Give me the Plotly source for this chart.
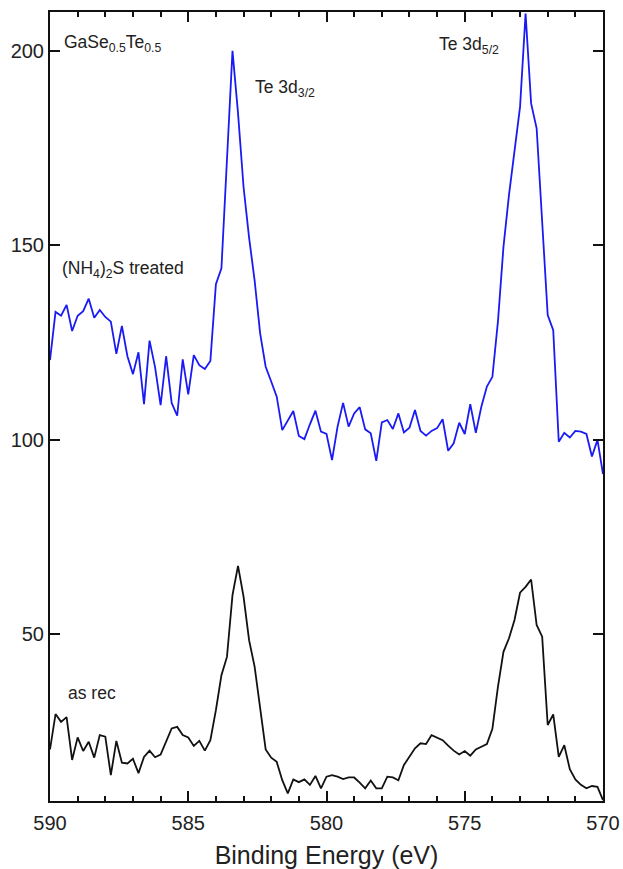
import numpy as np
import plotly.graph_objects as go

# Binding energy grid (eV), 590 -> 570 in 0.2 eV steps
energy = np.round(np.linspace(590, 570, 101), 1)

treated = [120.5, 132.9, 131.9, 134.7, 128.0, 131.9, 133.1, 136.3, 131.4, 133.4,
           131.6, 130.4, 122.1, 129.3, 121.5, 116.9, 122.5, 109.2, 125.5, 118.7,
           108.9, 121.5, 109.5, 106.2, 120.7, 111.7, 121.8, 119.2, 118.2, 120.3,
           140.0, 144.1, 172.0, 200.0, 184.0, 165.0, 152.0, 141.0, 127.4, 118.8,
           115.0, 111.1, 102.5, 105.0, 107.4, 101.0, 100.2, 104.0, 107.5, 102.1,
           101.5, 94.8, 103.4, 109.5, 103.4, 106.8, 108.4, 102.7, 101.7, 94.6,
           104.5, 105.1, 102.8, 106.8, 101.9, 103.1, 107.7, 102.3, 101.1, 102.3,
           103.0, 105.3, 97.2, 99.1, 104.4, 101.5, 109.2, 101.8, 108.5, 113.7,
           116.2, 130.4, 149.6, 163.0, 174.0, 185.6, 209.6, 186.5, 180.1, 157.0,
           132.1, 128.2, 99.5, 101.8, 100.6, 102.3, 102.1, 101.5, 95.7, 100.0,
           91.2]

as_rec = [20.4, 29.5, 27.5, 28.7, 17.7, 23.5, 20.0, 22.4, 18.3, 24.1,
          23.7, 13.8, 22.6, 17.0, 16.8, 18.0, 14.3, 18.5, 20.1, 18.4,
          19.1, 22.4, 25.8, 26.2, 24.1, 23.5, 21.3, 22.6, 20.1, 22.8,
          30.5, 39.5, 44.2, 60.1, 67.6, 59.7, 48.5, 41.7, 30.5, 20.4,
          18.3, 17.2, 12.5, 9.1, 12.7, 12.0, 12.7, 11.3, 13.6, 10.4,
          13.4, 13.8, 13.4, 12.8, 13.2, 13.2, 11.9, 10.4, 12.4, 10.4,
          10.4, 13.4, 13.2, 12.5, 16.4, 18.7, 20.7, 22.0, 21.8, 24.1,
          23.5, 22.8, 21.4, 20.1, 19.1, 20.0, 18.8, 20.4, 21.1, 21.8,
          25.7, 36.5, 45.5, 49.0, 53.7, 60.7, 62.2, 64.1, 52.4, 49.4,
          26.7, 29.4, 18.5, 21.5, 15.3, 12.7, 11.3, 10.4, 11.0, 10.8,
          7.4]

x_ticks = [590, 585, 580, 575, 570]
y_ticks = [50, 100, 150, 200]

labels = [
    (589.57, 202.0, "GaSe<sub>0.5</sub>Te<sub>0.5</sub>"),
    (582.65, 190.4, "Te 3d<sub>3/2</sub>"),
    (576.01, 201.5, "Te 3d<sub>5/2</sub>"),
    (589.64, 143.7, "(NH<sub>4</sub>)<sub>2</sub>S treated"),
    (589.42, 35.0, "as rec"),
]

FONT = "Liberation Sans, Arial, Helvetica, sans-serif"

fig = go.Figure()
fig.add_trace(go.Scatter(x=energy, y=treated, mode="lines",
                         line=dict(color="#1a1af5", width=1.8), showlegend=False))
fig.add_trace(go.Scatter(x=energy, y=as_rec, mode="lines",
                         line=dict(color="#111111", width=1.8), showlegend=False))

for x, y, t in labels:
    fig.add_annotation(x=x, y=y, text=t, showarrow=False, xanchor="left",
                       yanchor="middle", font=dict(family=FONT, size=17.5, color="#222"))

fig.update_layout(
    width=623, height=869,
    margin=dict(l=50, r=20, t=12, b=68),
    paper_bgcolor="white", plot_bgcolor="white",
    font=dict(family=FONT, color="#222"),
)
fig.update_xaxes(
    range=[590, 570], tickvals=x_ticks, ticks="inside", ticklen=10, tickwidth=1.5,
    tickcolor="#111", showline=True, linecolor="#111", linewidth=2, mirror="allticks",
    showgrid=False, zeroline=False, tickfont=dict(size=20), automargin=False,
    ticklabelstandoff=3,
    minor=dict(dtick=1, ticks="inside", ticklen=5, tickwidth=1.5, tickcolor="#111", showgrid=False),
    title=dict(text="Binding Energy (eV)", font=dict(size=25), standoff=14),
)
fig.update_yaxes(
    range=[7.15, 210], tickvals=y_ticks, ticks="inside", ticklen=10, tickwidth=1.5,
    tickcolor="#111", showline=True, linecolor="#111", linewidth=2, mirror="allticks",
    showgrid=False, zeroline=False, tickfont=dict(size=20), automargin=False,
)

fig.write_html("out.html")
